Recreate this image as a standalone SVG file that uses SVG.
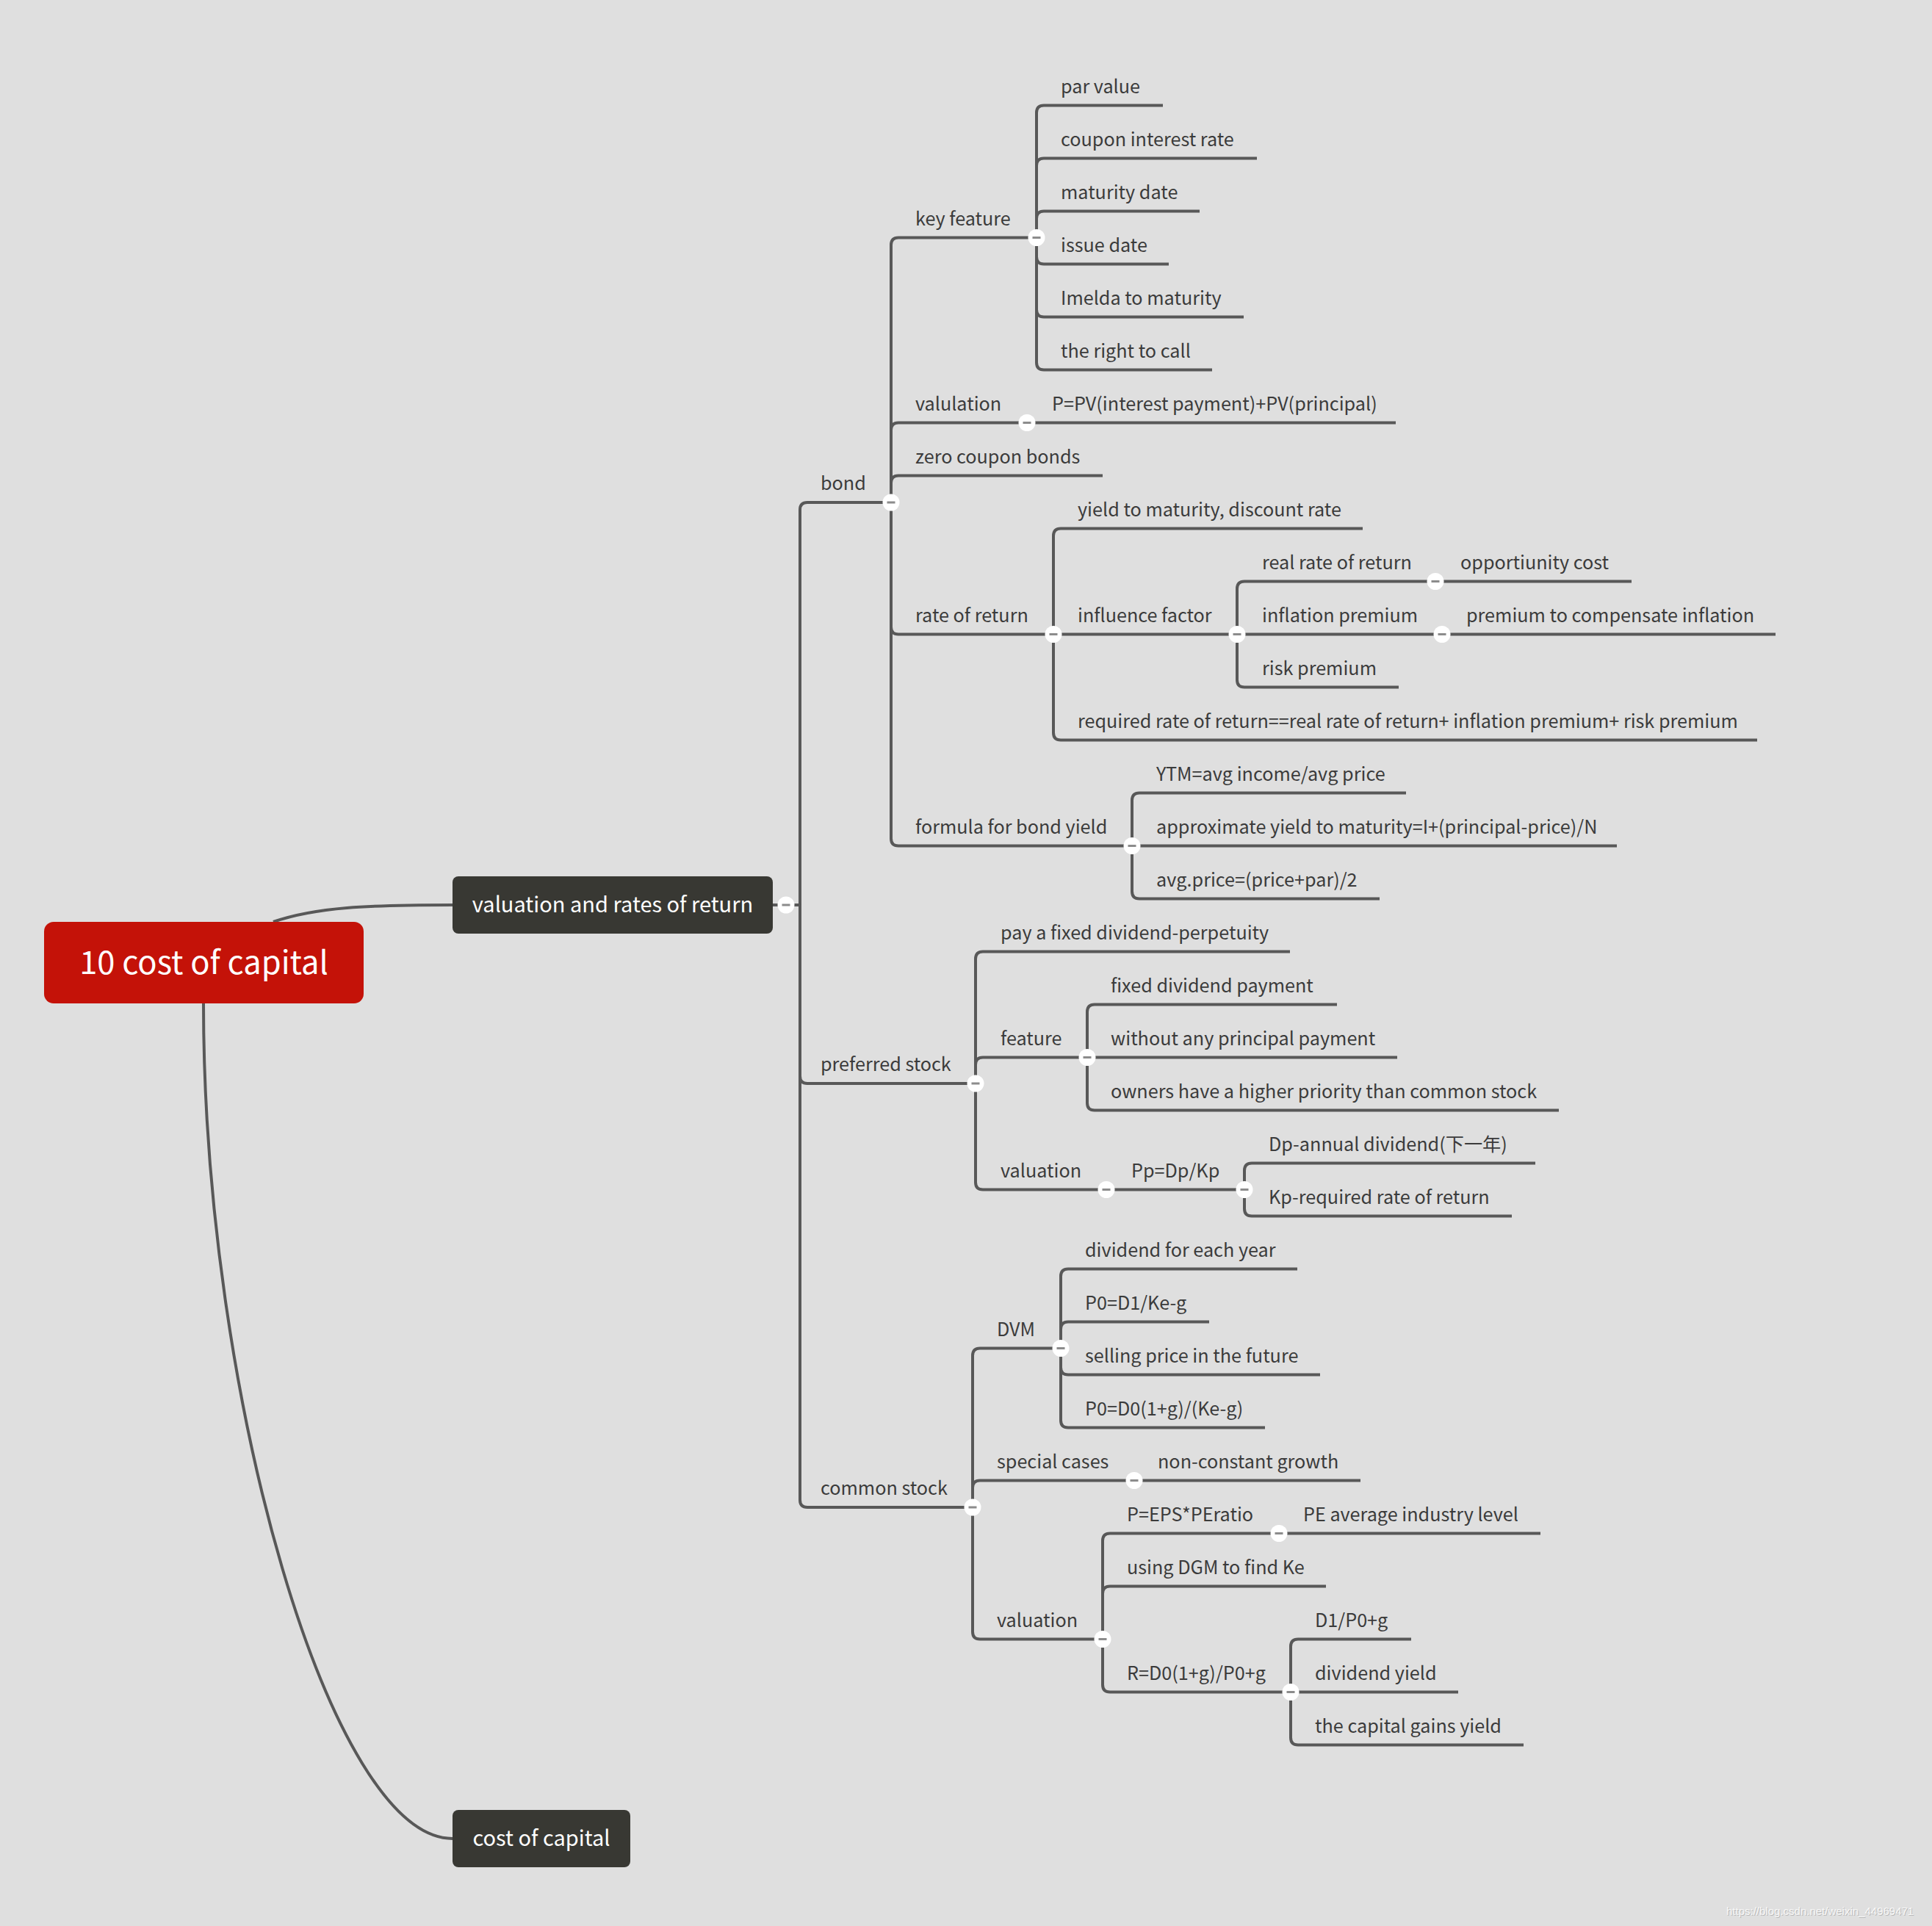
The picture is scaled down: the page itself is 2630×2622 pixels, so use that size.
<svg xmlns="http://www.w3.org/2000/svg" width="2630" height="2622" viewBox="0 0 2630 2622">
<defs>
<style>
.bg{fill:#dfdfdf}
.ln{fill:none;stroke:#585858;stroke-width:4;stroke-linejoin:round}
.cv{fill:none;stroke:#585858;stroke-width:4}
.t{font-family:"Noto Sans CJK SC","Source Sans Pro",sans-serif;font-size:25.2px;fill:#3b3b3b}
.tp{font-family:"Noto Sans CJK SC","Source Sans Pro",sans-serif;font-size:29px;fill:#ffffff;text-anchor:middle}
.ct{font-family:"Noto Sans CJK SC","Source Sans Pro",sans-serif;font-size:43.5px;fill:#ffffff;text-anchor:middle}
.wm{font-family:"Liberation Sans",Arial,sans-serif;font-size:15px}
</style>
<g id="col"><circle r="11.5" fill="#ffffff"/><rect x="-5.5" y="-1.5" width="11" height="3" fill="#8c8c8c"/></g>
</defs>
<rect class="bg" x="0" y="0" width="2630" height="2622"/>

<g id="connectors">
<path class="cv" d="M372 1255 C430 1235 500 1232 616 1232"/>
<path class="cv" d="M277 1366 C277 1900 450 2503 616 2503"/>
<path class="ln" d="M1052 1232 H1089 V694 Q1089 684 1099 684 H1213"/>
<path class="ln" d="M1052 1232 H1089 V1465 Q1089 1475 1099 1475 H1328"/>
<path class="ln" d="M1052 1232 H1089 V2042 Q1089 2052 1099 2052 H1324"/>
<path class="ln" d="M1213 684 V333.5 Q1213 323.5 1223 323.5 H1411"/>
<path class="ln" d="M1213 684 V585.5 Q1213 575.5 1223 575.5 H1398"/>
<path class="ln" d="M1213 684 V657.5 Q1213 647.5 1223 647.5 H1501"/>
<path class="ln" d="M1213 684 V853.5 Q1213 863.5 1223 863.5 H1434"/>
<path class="ln" d="M1213 684 V1141.5 Q1213 1151.5 1223 1151.5 H1541"/>
<path class="ln" d="M1411 323.5 V153.5 Q1411 143.5 1421 143.5 H1583"/>
<path class="ln" d="M1411 323.5 V225.5 Q1411 215.5 1421 215.5 H1711"/>
<path class="ln" d="M1411 323.5 V297.5 Q1411 287.5 1421 287.5 H1633"/>
<path class="ln" d="M1411 323.5 V349.5 Q1411 359.5 1421 359.5 H1591"/>
<path class="ln" d="M1411 323.5 V421.5 Q1411 431.5 1421 431.5 H1693"/>
<path class="ln" d="M1411 323.5 V493.5 Q1411 503.5 1421 503.5 H1650"/>
<path class="ln" d="M1398 575.5 H1900"/>
<path class="ln" d="M1434 863.5 V729.5 Q1434 719.5 1444 719.5 H1855"/>
<path class="ln" d="M1434 863.5 H1684"/>
<path class="ln" d="M1434 863.5 V997.5 Q1434 1007.5 1444 1007.5 H2392"/>
<path class="ln" d="M1684 863.5 V801.5 Q1684 791.5 1694 791.5 H1954"/>
<path class="ln" d="M1684 863.5 H1963"/>
<path class="ln" d="M1684 863.5 V925.5 Q1684 935.5 1694 935.5 H1904"/>
<path class="ln" d="M1954 791.5 H2221"/>
<path class="ln" d="M1963 863.5 H2417"/>
<path class="ln" d="M1541 1151.5 V1089.5 Q1541 1079.5 1551 1079.5 H1914"/>
<path class="ln" d="M1541 1151.5 H2201"/>
<path class="ln" d="M1541 1151.5 V1213.5 Q1541 1223.5 1551 1223.5 H1878"/>
<path class="ln" d="M1328 1475 V1305.5 Q1328 1295.5 1338 1295.5 H1756"/>
<path class="ln" d="M1328 1475 V1449.5 Q1328 1439.5 1338 1439.5 H1480"/>
<path class="ln" d="M1328 1475 V1609.5 Q1328 1619.5 1338 1619.5 H1506"/>
<path class="ln" d="M1480 1439.5 V1377.5 Q1480 1367.5 1490 1367.5 H1820"/>
<path class="ln" d="M1480 1439.5 H1902"/>
<path class="ln" d="M1480 1439.5 V1501.5 Q1480 1511.5 1490 1511.5 H2122"/>
<path class="ln" d="M1506 1619.5 H1694"/>
<path class="ln" d="M1694 1619.5 V1593.5 Q1694 1583.5 1704 1583.5 H2090"/>
<path class="ln" d="M1694 1619.5 V1645.5 Q1694 1655.5 1704 1655.5 H2058"/>
<path class="ln" d="M1324 2052 V1845.5 Q1324 1835.5 1334 1835.5 H1444"/>
<path class="ln" d="M1324 2052 V2025.5 Q1324 2015.5 1334 2015.5 H1544"/>
<path class="ln" d="M1324 2052 V2221.5 Q1324 2231.5 1334 2231.5 H1501"/>
<path class="ln" d="M1444 1835.5 V1737.5 Q1444 1727.5 1454 1727.5 H1766"/>
<path class="ln" d="M1444 1835.5 V1809.5 Q1444 1799.5 1454 1799.5 H1646"/>
<path class="ln" d="M1444 1835.5 V1861.5 Q1444 1871.5 1454 1871.5 H1797"/>
<path class="ln" d="M1444 1835.5 V1933.5 Q1444 1943.5 1454 1943.5 H1722"/>
<path class="ln" d="M1544 2015.5 H1852"/>
<path class="ln" d="M1501 2231.5 V2097.5 Q1501 2087.5 1511 2087.5 H1741"/>
<path class="ln" d="M1501 2231.5 V2169.5 Q1501 2159.5 1511 2159.5 H1805"/>
<path class="ln" d="M1501 2231.5 V2293.5 Q1501 2303.5 1511 2303.5 H1757"/>
<path class="ln" d="M1741 2087.5 H2097"/>
<path class="ln" d="M1757 2303.5 V2241.5 Q1757 2231.5 1767 2231.5 H1921"/>
<path class="ln" d="M1757 2303.5 H1985"/>
<path class="ln" d="M1757 2303.5 V2365.5 Q1757 2375.5 1767 2375.5 H2074"/>
</g>

<g id="central"><rect x="60" y="1255" width="435" height="111" rx="13" fill="#c41208"/><text class="ct" x="277.5" y="1326">10 cost of capital</text></g>
<g id="topic-valuation"><rect x="616" y="1193" width="436" height="78" rx="8" fill="#383833"/><text class="tp" x="834" y="1242">valuation and rates of return</text><use href="#col" x="1070" y="1232"/></g>
<g id="topic-cost"><rect x="616" y="2464" width="242" height="78" rx="8" fill="#383833"/><text class="tp" x="737" y="2513">cost of capital</text></g>

<g id="bond"><text class="t" x="1117" y="667">bond</text><use href="#col" x="1213" y="684"/></g>
<g id="key-feature"><text class="t" x="1246" y="306.5">key feature</text><use href="#col" x="1411" y="323.5"/></g>
<g id="par-value"><text class="t" x="1444" y="126.5">par value</text></g>
<g id="coupon-rate"><text class="t" x="1444" y="198.5">coupon interest rate</text></g>
<g id="maturity-date"><text class="t" x="1444" y="270.5">maturity date</text></g>
<g id="issue-date"><text class="t" x="1444" y="342.5">issue date</text></g>
<g id="imelda"><text class="t" x="1444" y="414.5">Imelda to maturity</text></g>
<g id="right-to-call"><text class="t" x="1444" y="486.5">the right to call</text></g>
<g id="valulation"><text class="t" x="1246" y="558.5">valulation</text><use href="#col" x="1398" y="575.5"/></g>
<g id="ppv"><text class="t" x="1432" y="558.5">P=PV(interest payment)+PV(principal)</text></g>
<g id="zero-coupon"><text class="t" x="1246" y="630.5">zero coupon bonds</text></g>
<g id="rate-of-return"><text class="t" x="1246" y="846.5">rate of return</text><use href="#col" x="1434" y="863.5"/></g>
<g id="ytm-discount"><text class="t" x="1467" y="702.5">yield to maturity, discount rate</text></g>
<g id="influence"><text class="t" x="1467" y="846.5">influence factor</text><use href="#col" x="1684" y="863.5"/></g>
<g id="real-rate"><text class="t" x="1718" y="774.5">real rate of return</text><use href="#col" x="1954" y="791.5"/></g>
<g id="opportunity"><text class="t" x="1988" y="774.5">opportiunity cost</text></g>
<g id="inflation"><text class="t" x="1718" y="846.5">inflation premium</text><use href="#col" x="1963" y="863.5"/></g>
<g id="compensate"><text class="t" x="1996" y="846.5">premium to compensate inflation</text></g>
<g id="risk"><text class="t" x="1718" y="918.5">risk premium</text></g>
<g id="required"><text class="t" x="1467" y="990.5">required rate of return==real rate of return+ inflation premium+ risk premium</text></g>
<g id="formula"><text class="t" x="1246" y="1134.5">formula for bond yield</text><use href="#col" x="1541" y="1151.5"/></g>
<g id="ytm"><text class="t" x="1574" y="1062.5">YTM=avg income/avg price</text></g>
<g id="approx"><text class="t" x="1574" y="1134.5">approximate yield to maturity=I+(principal-price)/N</text></g>
<g id="avg-price"><text class="t" x="1574" y="1206.5">avg.price=(price+par)/2</text></g>

<g id="preferred"><text class="t" x="1117" y="1458">preferred stock</text><use href="#col" x="1328" y="1475"/></g>
<g id="perpetuity"><text class="t" x="1362" y="1278.5">pay a fixed dividend-perpetuity</text></g>
<g id="feature"><text class="t" x="1362" y="1422.5">feature</text><use href="#col" x="1480" y="1439.5"/></g>
<g id="fixed-div"><text class="t" x="1512" y="1350.5">fixed dividend payment</text></g>
<g id="no-principal"><text class="t" x="1512" y="1422.5">without any principal payment</text></g>
<g id="priority"><text class="t" x="1512" y="1494.5">owners have a higher priority than common stock</text></g>
<g id="pref-valuation"><text class="t" x="1362" y="1602.5">valuation</text><use href="#col" x="1506" y="1619.5"/></g>
<g id="pp"><text class="t" x="1540" y="1602.5">Pp=Dp/Kp</text><use href="#col" x="1694" y="1619.5"/></g>
<g id="dp"><text class="t" x="1727" y="1566.5">Dp-annual dividend(下一年)</text></g>
<g id="kp"><text class="t" x="1727" y="1638.5">Kp-required rate of return</text></g>

<g id="common"><text class="t" x="1117" y="2035">common stock</text><use href="#col" x="1324" y="2052"/></g>
<g id="dvm"><text class="t" x="1357" y="1818.5">DVM</text><use href="#col" x="1444" y="1835.5"/></g>
<g id="div-each"><text class="t" x="1477" y="1710.5">dividend for each year</text></g>
<g id="p0-d1"><text class="t" x="1477" y="1782.5">P0=D1/Ke-g</text></g>
<g id="selling"><text class="t" x="1477" y="1854.5">selling price in the future</text></g>
<g id="p0-d0"><text class="t" x="1477" y="1926.5">P0=D0(1+g)/(Ke-g)</text></g>
<g id="special"><text class="t" x="1357" y="1998.5">special cases</text><use href="#col" x="1544" y="2015.5"/></g>
<g id="non-constant"><text class="t" x="1576" y="1998.5">non-constant growth</text></g>
<g id="common-valuation"><text class="t" x="1357" y="2214.5">valuation</text><use href="#col" x="1501" y="2231.5"/></g>
<g id="peratio"><text class="t" x="1534" y="2070.5">P=EPS*PEratio</text><use href="#col" x="1741" y="2087.5"/></g>
<g id="pe-avg"><text class="t" x="1774" y="2070.5">PE average industry level</text></g>
<g id="dgm"><text class="t" x="1534" y="2142.5">using DGM to find Ke</text></g>
<g id="r-formula"><text class="t" x="1534" y="2286.5">R=D0(1+g)/P0+g</text><use href="#col" x="1757" y="2303.5"/></g>
<g id="d1p0"><text class="t" x="1790" y="2214.5">D1/P0+g</text></g>
<g id="div-yield"><text class="t" x="1790" y="2286.5">dividend yield</text></g>
<g id="cap-gains"><text class="t" x="1790" y="2358.5">the capital gains yield</text></g>

<g id="watermark"><text class="wm" x="2351" y="2608" fill="#b8b8b8">https://blog.csdn.net/weixin_44969471</text><text class="wm" x="2350" y="2607" fill="#ffffff" fill-opacity="0.85">https://blog.csdn.net/weixin_44969471</text></g>
</svg>
